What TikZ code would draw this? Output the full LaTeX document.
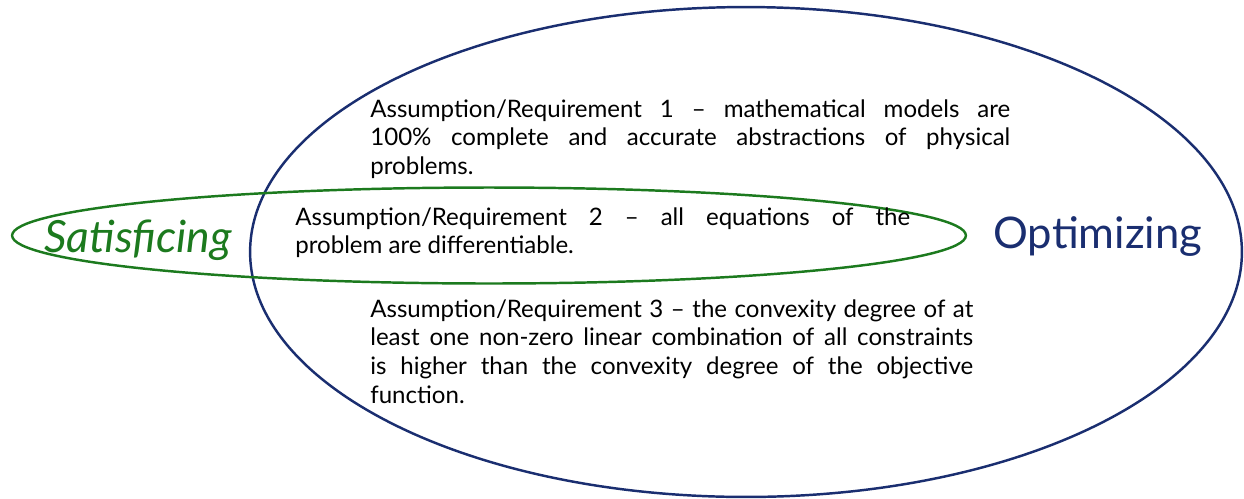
\documentclass[tikz,border=0pt]{standalone}
\usepackage{fontspec}
\setmainfont{Lato}
\definecolor{satgreen}{RGB}{28,122,30}
\definecolor{optblue}{RGB}{26,46,112}
\tikzset{
  reqtext/.style={anchor=base west, inner sep=0pt, align=justify,
    font=\fontsize{13.7}{16.4}\selectfont},
  bigword/.style={anchor=base west, inner sep=0pt}
}
\begin{document}
\begin{tikzpicture}[x=0.02cm, y=-0.02cm]
  \useasboundingbox (0,0) rectangle (1244,498);

  % Ellipses
  \draw[optblue, line width=1.4pt] (746,252) ellipse [x radius=9.92cm, y radius=4.9cm];
  \draw[satgreen, line width=1.4pt] (489,235.5) ellipse [x radius=9.54cm, y radius=0.96cm];

  % Labels
  \node[bigword, text=satgreen, font=\fontsize{25.3}{30}\selectfont\itshape] (satisficing) at (44,252) {Satisficing};
  \node[bigword, text=optblue, font=\fontsize{24.8}{30}\selectfont] (optimizing) at (993,248) {Optimizing};

  % Requirements
  \node[reqtext, text width=12.8cm] (reqone) at (370,117)
    {Assumption/Requirement 1 -- mathematical models are\linebreak 100\% complete and accurate abstractions of physical\linebreak problems.};
  \node[reqtext, text width=12.3cm] (reqtwo) at (295,225)
    {Assumption/Requirement 2 -- all equations of the\linebreak problem are differentiable.};
  \node[reqtext, text width=12.06cm] (reqthree) at (370,317)
    {Assumption/Requirement 3 -- the convexity degree of at\linebreak least one non-zero linear combination of all constraints\linebreak is higher than the convexity degree of the objective\linebreak function.};
\end{tikzpicture}
\end{document}
